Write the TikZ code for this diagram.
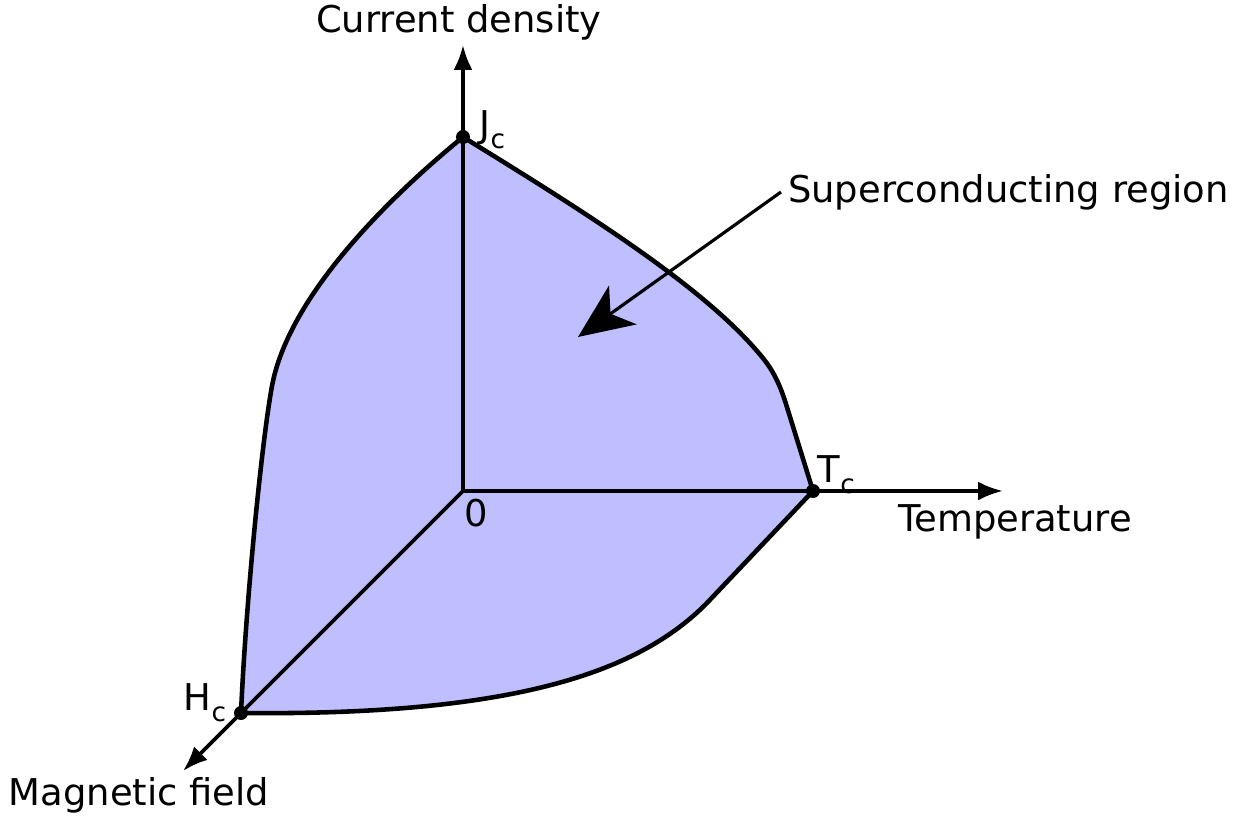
\documentclass[tikz,border=0pt]{standalone}
\usepackage{fontspec}
\setmainfont{DejaVu Sans}
\usetikzlibrary{arrows.meta, positioning, calc}
\definecolor{scfill}{RGB}{191,191,255}
\newcommand{\subc}{\raisebox{-0.3em}{\fontsize{15}{15}\selectfont c}}

\begin{document}
\begin{tikzpicture}[x=0.02cm, y=-0.02cm, >={Latex[length=0.5cm,width=0.38cm]}, line width=2.1pt]
        \tikzstyle{axislabel} = [font=\fontsize{21}{25}\selectfont, inner sep=0pt]
        \tikzstyle{critdot} = [fill=black]
        \useasboundingbox (0,0) rectangle (1249,818);

        % Punkte auf den Achsen
        \coordinate (O) at (463,491);
        \coordinate (Jc) at (463,137);
        \coordinate (Tc) at (813,491);
        \coordinate (Hc) at (241,713);
        \coordinate (jend) at (463,45);
        \coordinate (tend) at (1003,491);
        \coordinate (hend) at (183,771);
        \coordinate (tip) at (578,337);

        % Supraleitender Bereich
        \draw [fill=scfill, line width=2.6pt, line join=round]
            (Jc) .. controls (590,215) and (712,292) .. (766,362)
                 .. controls (775,374) and (781,388) .. (786,404) -- (Tc)
            -- (706,604) .. controls (640,670) and (520,716) .. (Hc)
            .. controls (246,600) and (262,440) .. (272,386)
            .. controls (288,300) and (380,205) .. (Jc) -- cycle;

        % Achsen
        \draw [->] (O) -- (Jc) -- (jend);
        \draw [->] (O) -- (Tc) -- (tend);
        \draw [->] (O) -- (Hc) -- (hend);

        \foreach \p in {Jc, Tc, Hc}
            \fill [critdot] (\p) circle (0.14cm);

        % Beschriftungen
        \node [axislabel] (cdlabel) at (459,22) {Current density};
        \node [axislabel] (templabel) at (1015,522) {Temperature};
        \node [axislabel] (mflabel) at (139,795) {Magnetic field};
        \node [axislabel, anchor=west, inner sep=3pt] (scr) at (781,192) {Superconducting region};
        \node [axislabel, anchor=base west] (jclabel) at (478,137) {J\subc};
        \node [axislabel, anchor=base west] (tclabel) at (816,482) {T\subc};
        \node [axislabel, anchor=base east] (hclabel) at (228,710) {H\subc};
        \node [axislabel, anchor=north west] (zero) at (463,497) {0};

        % Pfeil zum Bereich
        \draw [-{Stealth[length=1.1cm, width=0.95cm, inset=0.3cm]}, line width=1.8pt] (scr.west) -- (tip);
\end{tikzpicture}
\end{document}
